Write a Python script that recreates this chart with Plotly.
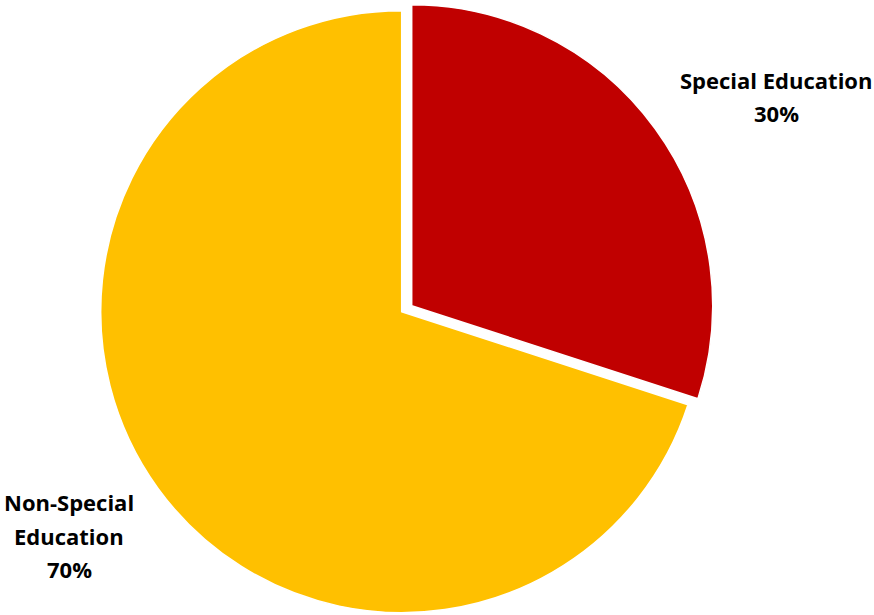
import plotly.graph_objects as go

# Share of students by program
categories = ["Special Education", "Non-Special Education"]
values = [30, 70]
label_lines = [["Special Education"], ["Non-Special", "Education"]]
colors = ["#C00000", "#FFC000"]

W, H = 874, 615
R = 301  # pie radius in px


def domain(cx, cy):
    """Pie domain (paper coords) for a circle centred at px (cx, cy) from top-left."""
    return dict(x=[(cx - R) / W, (cx + R) / W],
                y=[(H - cy - R) / H, (H - cy + R) / H])


fig = go.Figure()

# Non-Special slice stays in place; the Special slice is drawn exploded outward.
base_center = (401.7, 311.7)
exploded_center = (411.7, 305.7)

for idx, center in [(1, base_center), (0, exploded_center)]:
    slice_colors = [c if i == idx else "rgba(0,0,0,0)" for i, c in enumerate(colors)]
    fig.add_trace(go.Pie(
        labels=categories,
        values=values,
        sort=False,
        direction="clockwise",
        rotation=0,
        marker=dict(colors=slice_colors,
                    line=dict(color="white", width=[1.5 if i == idx else 0 for i in range(2)])),
        textinfo="none",
        hoverinfo="label+percent",
        showlegend=False,
        domain=domain(*center),
    ))

total = sum(values)
label_pos = [
    (776, [80, 113]),
    (69, [502, 536, 569]),
]
annotations = []
for lines, v, (x, ys) in zip(label_lines, values, label_pos):
    texts = lines + [f"{round(100 * v / total)}%"]
    for t, y in zip(texts, ys):
        annotations.append(dict(
            x=x / W, y=1 - y / H, xref="paper", yref="paper",
            text=f"<b>{t}</b>", showarrow=False,
            xanchor="center", yanchor="middle",
            font=dict(family="Open Sans", size=22, color="black"),
        ))

fig.update_layout(
    width=W, height=H,
    margin=dict(l=0, r=0, t=0, b=0),
    paper_bgcolor="white",
    plot_bgcolor="white",
    annotations=annotations,
)

fig.write_html("out.html")
